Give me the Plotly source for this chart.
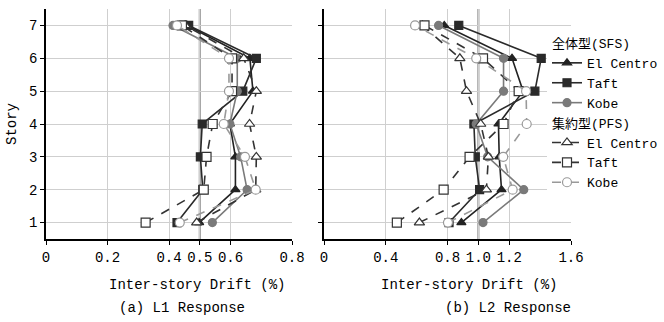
import plotly.graph_objects as go

stories = [1, 2, 3, 4, 5, 6, 7]

# L1 response (inter-story drift %)
l1_sfs_elcentro = [0.498, 0.616, 0.616, 0.598, 0.673, 0.663, 0.459]
l1_sfs_taft     = [0.426, 0.510, 0.502, 0.508, 0.640, 0.684, 0.464]
l1_sfs_kobe     = [0.541, 0.654, 0.633, 0.598, 0.622, 0.622, 0.413]
l1_pfs_elcentro = [0.490, 0.682, 0.684, 0.662, 0.684, 0.643, 0.453]
l1_pfs_taft     = [0.324, 0.513, 0.522, 0.542, 0.605, 0.605, 0.442]
l1_pfs_kobe     = [0.435, 0.682, 0.647, 0.578, 0.595, 0.595, 0.426]

# L2 response
l2_sfs_elcentro = [0.890, 1.150, 1.135, 1.130, 1.290, 1.218, 0.779]
l2_sfs_taft     = [0.810, 1.008, 0.980, 0.971, 1.366, 1.407, 0.873]
l2_sfs_kobe     = [1.030, 1.294, 1.060, 0.986, 1.163, 1.163, 0.742]
l2_pfs_elcentro = [0.618, 1.052, 1.065, 1.015, 0.923, 0.880, 0.638]
l2_pfs_taft     = [0.472, 0.775, 0.943, 1.163, 1.261, 1.030, 0.651]
l2_pfs_kobe     = [0.803, 1.222, 1.161, 1.313, 1.309, 0.986, 0.590]

ticks_l1 = [0, 0.2, 0.4, 0.5, 0.6, 0.8]
ticklabels_l1 = ["0", "0.2", "0.4", "0.5", "0.6", "0.8"]
ticks_l2 = [0, 0.4, 0.8, 1.0, 1.2, 1.6]
ticklabels_l2 = ["0", "0.4", "0.8", "1.0", "1.2", "1.6"]
ref_lines = [0.5, 1.0]

names = ["El Centro", "Taft", "Kobe", "El Centro", "Taft", "Kobe"]
group_titles = ["全体型(SFS)", "集約型(PFS)"]

FONT = "Liberation Mono, Noto Sans CJK JP"

styles = [
    dict(color="#222222", symbol="triangle-up", fill="#222222", dash="solid", size=8),
    dict(color="#2a2a2a", symbol="square", fill="#2a2a2a", dash="solid", size=8),
    dict(color="#7a7a7a", symbol="circle", fill="#7a7a7a", dash="solid", size=8),
    dict(color="#333333", symbol="triangle-up", fill="white", dash="dash", size=9),
    dict(color="#333333", symbol="square", fill="white", dash="dash", size=9),
    dict(color="#999999", symbol="circle", fill="white", dash="dash", size=9),
]

l1 = [l1_sfs_elcentro, l1_sfs_taft, l1_sfs_kobe, l1_pfs_elcentro, l1_pfs_taft, l1_pfs_kobe]
l2 = [l2_sfs_elcentro, l2_sfs_taft, l2_sfs_kobe, l2_pfs_elcentro, l2_pfs_taft, l2_pfs_kobe]

fig = go.Figure()
for i in range(6):
    s = styles[i]
    grp = "sfs" if i < 3 else "pfs"
    for j, (data, xa) in enumerate([(l1[i], "x"), (l2[i], "x2")]):
        fig.add_trace(go.Scatter(
            x=data, y=stories, xaxis=xa, yaxis="y" if xa == "x" else "y2",
            mode="lines+markers", name=names[i],
            legendgroup=grp,
            legendgrouptitle=dict(text=group_titles[0] if i < 3 else group_titles[1],
                                  font=dict(family=FONT, size=13, color="black")),
            showlegend=(j == 0),
            line=dict(color=s["color"], width=1.6, dash=s["dash"]),
            marker=dict(symbol=s["symbol"], size=s["size"], color=s["fill"],
                        line=dict(color=s["color"], width=1.2)),
            cliponaxis=False,
        ))

W, H = 664, 322
L, R, T, B = 46, 93, 9, 83
pw = W - L - R
ph = H - T - B

def px2paper_x(px):
    return (px - L) / pw

def px2paper_y(py):
    return (H - B - py) / ph

for k, xa in enumerate(["x", "x2"]):
    fig.add_shape(type="line", xref=xa, yref="paper", x0=ref_lines[k], x1=ref_lines[k],
                  y0=0, y1=1, line=dict(color="#8a8a8a", width=2), layer="below")

axis_common = dict(showline=True, linecolor="black", linewidth=1.5, ticks="outside",
                   ticklen=4, tickcolor="black", showgrid=True, gridcolor="#cfcfcf",
                   gridwidth=1, zeroline=False,
                   tickfont=dict(family=FONT, size=14, color="black"))

fig.update_layout(
    width=W, height=H,
    margin=dict(l=L, r=R, t=T, b=B, autoexpand=False),
    plot_bgcolor="white", paper_bgcolor="white",
    font=dict(family=FONT, size=14, color="black"),
    xaxis=dict(domain=[0, px2paper_x(292)], range=[0, 0.8], tickvals=ticks_l1,
               ticktext=ticklabels_l1, **axis_common),
    xaxis2=dict(domain=[px2paper_x(324), 1], range=[0, 1.6], tickvals=ticks_l2,
                ticktext=ticklabels_l2, anchor="y2", **axis_common),
    yaxis=dict(range=[0.5, 7.5], tickvals=stories, anchor="x", **axis_common),
    yaxis2=dict(range=[0.5, 7.5], tickvals=stories, anchor="x2", showticklabels=False,
                **{k: v for k, v in axis_common.items()}),
    legend=dict(x=px2paper_x(547), y=px2paper_y(28), xanchor="left", yanchor="top",
                bgcolor="white", borderwidth=0, tracegroupgap=0,
                font=dict(family=FONT, size=13, color="black"),
                itemwidth=30),
    showlegend=True,
)

annots = [
    ("Inter-story Drift (%)", 197, 285),
    ("(a) L1 Response", 182, 308),
    ("Inter-story Drift (%)", 469, 285),
    ("(b) L2 Response", 508, 308),
]
for text, xp, yp in annots:
    fig.add_annotation(text=text, xref="paper", yref="paper", x=px2paper_x(xp),
                       y=px2paper_y(yp), showarrow=False, xanchor="center", yanchor="middle",
                       font=dict(family=FONT, size=14, color="black"))

fig.add_annotation(text="Story", xref="paper", yref="paper", x=px2paper_x(12),
                   y=px2paper_y(124), showarrow=False, textangle=-90,
                   xanchor="center", yanchor="middle",
                   font=dict(family=FONT, size=14, color="black"))

fig.write_html("out.html")
